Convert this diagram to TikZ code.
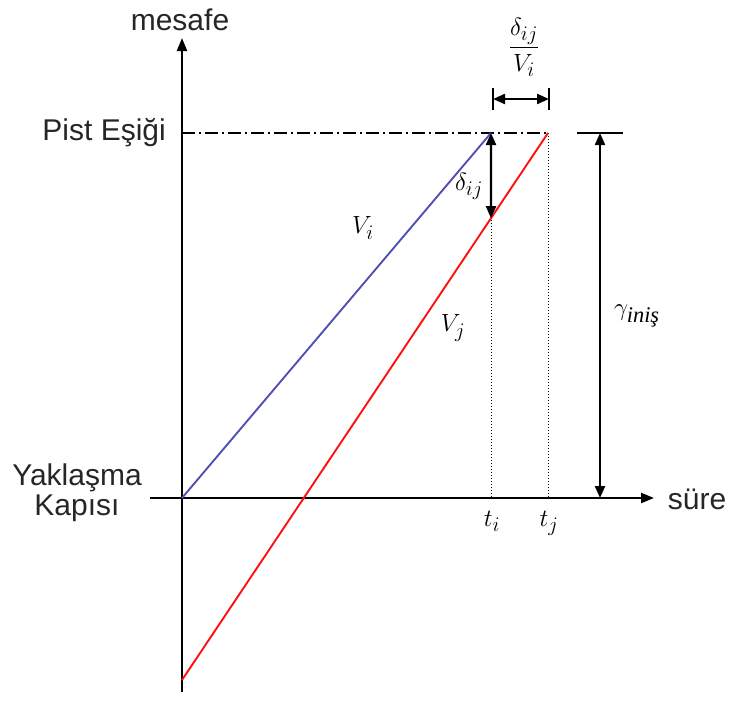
\documentclass[tikz,border=0pt]{standalone}
\usepackage{amsmath}
\usepackage{fontspec}
\setmainfont{Liberation Sans}
\newfontfamily\serifit{Liberation Serif}
\usepackage{tikz}
\usetikzlibrary{arrows.meta,positioning,calc}
\definecolor{slateline}{HTML}{5050B4}
\definecolor{redline}{HTML}{FF1010}
\tikzset{
  axis/.style={-{Triangle[length=13pt,width=10pt]},draw=black,line width=2.2pt},
  dimarrow/.style={{Triangle[length=12pt,width=10pt]}-{Triangle[length=12pt,width=10pt]},draw=black,line width=2.2pt},
  dimtick/.style={draw=black,line width=1.8pt},
  guide/.style={draw=black,line width=1pt,dotted},
  threshold/.style={draw=black,line width=1.5pt,dash pattern=on 13pt off 4pt on 2pt off 4pt},
  approach/.style={draw=slateline,line width=1.9pt},
  follower/.style={draw=redline,line width=1.9pt},
  labelstyle/.style={font=\fontsize{30}{34}\selectfont,inner sep=1pt,text=black!85},
  mathlabel/.style={font=\fontsize{32}{36}\selectfont,inner sep=1pt}
}

\begin{document}
\begin{tikzpicture}[x=1pt,y=-1pt]
        \useasboundingbox (0,0) rectangle (733,707);
        % axes
        \coordinate (O) at (182,498);
        \coordinate (ytop) at (182,38);
        \coordinate (ybot) at (182,692);
        \coordinate (xleft) at (150,498);
        \coordinate (xright) at (654,498);
        \draw[axis] (ybot) -- (ytop);
        \draw[axis] (xleft) -- (xright);
        \node[labelstyle] (dist) at (180,20) {mesafe};
        \node[labelstyle] (time) at (697,499) {süre};
        % threshold and gate
        \coordinate (pi) at (491,133);
        \coordinate (pj) at (548,133);
        \coordinate (r0) at (182,680);
        \coordinate (ti) at (491,498);
        \coordinate (tj) at (548,498);
        \node[labelstyle,anchor=east] (thr) at (167,133) {Pist Eşiği};
        \node[labelstyle,align=center] (gate) at (77,493) {Yaklaşma\\[-4pt]Kapısı};
        \draw[threshold] (O |- pi) -- (pj);
        \draw[guide] (pi) -- (ti);
        \draw[guide] (pj) -- (tj);
        % trajectories
        \draw[approach] (O) -- (pi);
        \draw[follower] (r0) -- (pj);
        \node[mathlabel] (vi) at (363,228) {$V_i$};
        \node[mathlabel] (vj) at (453,328) {$V_j$};
        \node[mathlabel] (tilab) at (492,521) {$t_i$};
        \node[mathlabel] (tjlab) at (549,523) {$t_j$};
        % separation
        \coordinate (di) at ($(r0)!0.8443!(pj)$);
        \draw[dimarrow] (pi) -- (di);
        \node[mathlabel] (dij) at (469,186) {$\delta_{ij}$};
        \coordinate (hl) at (493,99);
        \coordinate (hr) at (549,99);
        \draw[dimtick] ($(hl)+(0,-11)$) -- ($(hl)+(0,11)$);
        \draw[dimtick] ($(hr)+(0,-11)$) -- ($(hr)+(0,11)$);
        \draw[dimarrow] (hl) -- (hr);
        \node[mathlabel] (frac) at (524,47) {$\dfrac{\delta_{ij}}{V_i}$};
        % landing
        \coordinate (gtop) at (600,133);
        \coordinate (gbot) at (600,498);
        \draw[dimtick] (577,133) -- (623,133);
        \draw[dimarrow] (gtop) -- (gbot);
        \node[mathlabel,anchor=west] (gam) at (613,316) {$\gamma_{\text{\serifit\itshape ini\c{s}}}$};
      \end{tikzpicture}
\end{document}
